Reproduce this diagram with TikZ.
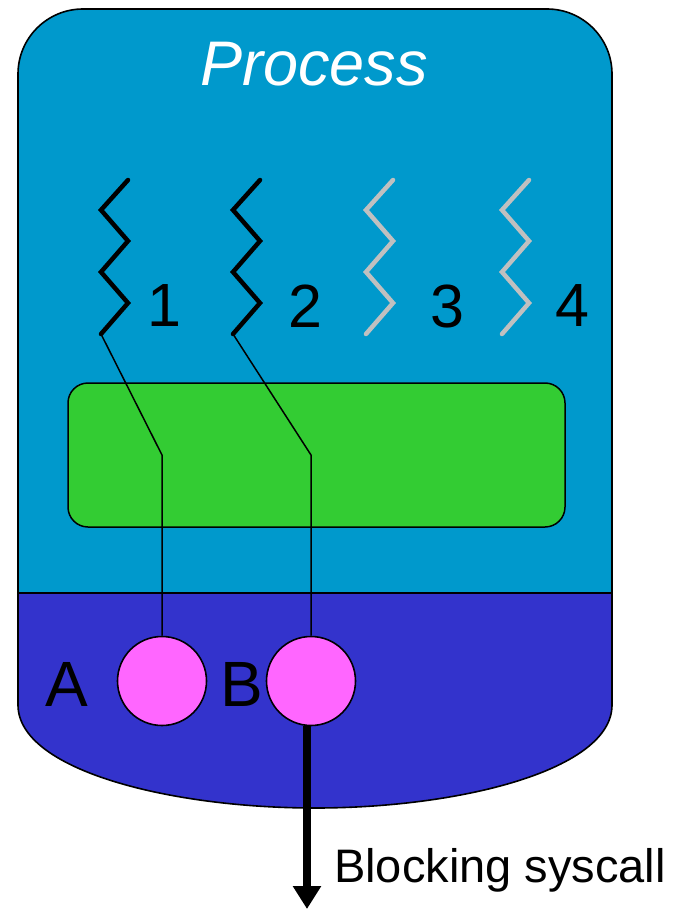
\documentclass[tikz,border=0pt]{standalone}
\usepackage{fontspec}
\setmainfont{Liberation Sans}
\usetikzlibrary{arrows.meta,positioning}

\definecolor{userblue}{RGB}{0,153,204}
\definecolor{kernelblue}{RGB}{51,51,204}
\definecolor{libgreen}{RGB}{51,204,51}
\definecolor{ktpink}{RGB}{255,102,255}
\definecolor{idlegrey}{RGB}{192,192,192}

\begin{document}
\begin{tikzpicture}[%
    x=1pt, y=-1pt,
    >=Stealth,
    outline/.style={draw=black, line width=1.6pt},
    thread/.style={line width=4.5pt, line cap=round, line join=miter},
    num/.style={font=\fontsize{61}{61}\selectfont, inner sep=0pt},
    ktname/.style={font=\fontsize{64}{64}\selectfont, inner sep=0pt},
    kthread/.style={circle, outline, fill=ktpink, minimum size=89pt, inner sep=0pt},
    link/.style={line width=1.5pt},
    syscall/.style={line width=8pt, -{Triangle[width=27pt,length=23pt]}}
  ]
    \useasboundingbox (0,0) rectangle (678,909);

    % process body
    \filldraw[outline, fill=userblue, rounded corners=65pt]
      (18,593) -- (18,9) -- (612,9) -- (612,593);
    \filldraw[outline, fill=kernelblue]
      (18,593) -- (18,705) .. controls (18,770) and (170,808) .. (315,808)
      .. controls (460,808) and (612,770) .. (612,705) -- (612,593) -- cycle;
    \node[font=\fontsize{63}{63}\selectfont\itshape, text=white, inner sep=0pt]
      (title) at (314,64) {Process};

    % runtime box
    \node[draw=black, line width=1.5pt, fill=libgreen, rounded corners=20pt,
          minimum width=497pt, minimum height=144pt] (rt) at (316.5,455) {};

    % user threads
    \foreach \x/\col/\n/\lx in {128/black/1/164, 260/black/2/305,
                                393/idlegrey/3/447, 529/idlegrey/4/572} {
      \draw[thread, \col] (\x,180) -- ++(-27,30) -- ++(27,31) -- ++(-27,31)
        -- ++(27,31) -- ++(-27,31) coordinate (t\n);
      \node[num] (n\n) at (\lx,306) {\n};
    }

    % kernel threads
    \node[kthread] (kta) at (162,681) {};
    \node[kthread] (ktb) at (311,681) {};
    \node[ktname] (la) at (67,684) {A};
    \node[ktname] (lb) at (242,684) {B};

    \coordinate (b1) at (162,455);
    \coordinate (b2) at (311,455);
    \draw[link] (t1) -- (b1) -- (kta);
    \draw[link] (t2) -- (b2) -- (ktb);

    % blocking call
    \coordinate (blk) at (307,909);
    \draw[syscall] (ktb.south -| blk) -- (blk);
    \node[font=\fontsize{47}{47}\selectfont, inner sep=0pt, anchor=base west]
      (call) at (334,882) {Blocking syscall};
\end{tikzpicture}
\end{document}
